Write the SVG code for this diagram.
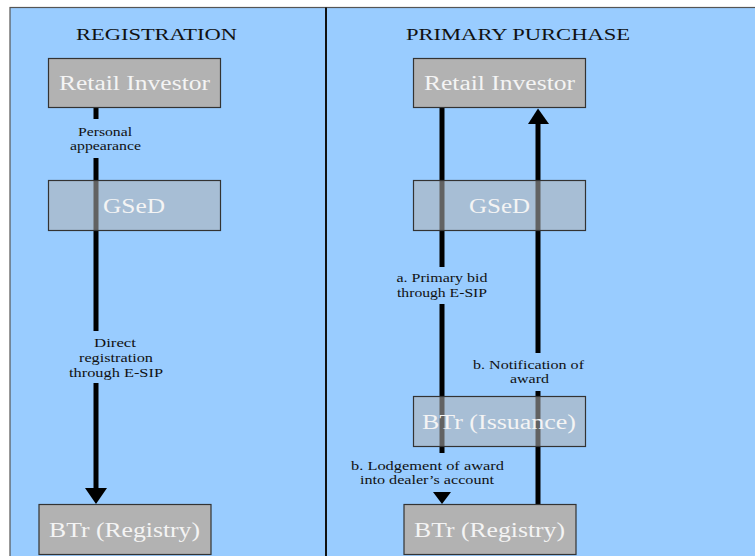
<svg xmlns="http://www.w3.org/2000/svg" width="755" height="556" viewBox="0 0 755 556">
<style>
.title{font-family:"Liberation Serif",serif;font-size:16px;fill:#111;text-anchor:middle}
.box{fill:#B2B2B2;stroke:#333;stroke-width:1.2}
.tbox{fill:#B2B2B2;fill-opacity:0.55;stroke:#333;stroke-width:1.2}
.bt{font-family:"Liberation Serif",serif;font-size:20px;fill:#F4F4F4;text-anchor:middle}
.lbl{font-family:"Liberation Serif",serif;font-size:12px;fill:#111;text-anchor:middle}
.ln{stroke:#000;stroke-width:5;fill:none}
.ah{fill:#000}
</style>
<rect x="0" y="0" width="755" height="556" fill="#fff"/>
<rect x="10" y="7.5" width="750" height="552" fill="#99CCFF" stroke="#555" stroke-width="1.2"/>
<line x1="326" y1="7.5" x2="326" y2="556" stroke="#111" stroke-width="2"/>
<text class="title" x="156.5" y="40" textLength="161" lengthAdjust="spacingAndGlyphs">REGISTRATION</text>
<text class="title" x="518" y="40" textLength="224" lengthAdjust="spacingAndGlyphs">PRIMARY PURCHASE</text>

<g id="connectors">
<line class="ln" x1="96" y1="108" x2="96" y2="119"/>
<line class="ln" x1="96" y1="158" x2="96" y2="331"/>
<line class="ln" x1="96" y1="383" x2="96" y2="489"/>
<polygon class="ah" points="85,488 107,488 96,504"/>
<line class="ln" x1="442" y1="108" x2="442" y2="267"/>
<line class="ln" x1="442" y1="304" x2="442" y2="453"/>
<polygon class="ah" points="433,492 451,492 442,504"/>
<polygon class="ah" points="528,124 549,124 538,108.5"/>
<line class="ln" x1="538" y1="123" x2="538" y2="353"/>
<line class="ln" x1="538" y1="391" x2="538" y2="504"/>
<text class="lbl" x="105" y="136" textLength="54" lengthAdjust="spacingAndGlyphs">Personal</text>
<text class="lbl" x="105.5" y="150" textLength="71" lengthAdjust="spacingAndGlyphs">appearance</text>
<text class="lbl" x="115" y="347" textLength="42" lengthAdjust="spacingAndGlyphs">Direct</text>
<text class="lbl" x="116" y="362" textLength="74" lengthAdjust="spacingAndGlyphs">registration</text>
<text class="lbl" x="116" y="377" textLength="94" lengthAdjust="spacingAndGlyphs">through E-SIP</text>
<text class="lbl" x="442" y="282" textLength="91" lengthAdjust="spacingAndGlyphs">a. Primary bid</text>
<text class="lbl" x="442" y="297" textLength="90" lengthAdjust="spacingAndGlyphs">through E-SIP</text>
<text class="lbl" x="528.5" y="369" textLength="111" lengthAdjust="spacingAndGlyphs">b. Notification of</text>
<text class="lbl" x="529.5" y="383" textLength="39" lengthAdjust="spacingAndGlyphs">award</text>
<text class="lbl" x="427.5" y="470" textLength="153" lengthAdjust="spacingAndGlyphs">b.  Lodgement of award</text>
<text class="lbl" x="427" y="483.5" textLength="134" lengthAdjust="spacingAndGlyphs">into dealer’s account</text>
</g>

<g id="reg-investor">
<rect class="box" x="48.5" y="58.5" width="172" height="49"/>
<text class="bt" x="134.5" y="90" textLength="151" lengthAdjust="spacingAndGlyphs">Retail Investor</text>
</g>
<g id="reg-gsed">
<rect class="tbox" x="48.5" y="180.5" width="172" height="50"/>
<text class="bt" x="134" y="213" textLength="62" lengthAdjust="spacingAndGlyphs">GSeD</text>
</g>
<g id="reg-registry">
<rect class="box" x="39" y="504.5" width="172" height="50"/>
<text class="bt" x="124.5" y="537" textLength="151" lengthAdjust="spacingAndGlyphs">BTr (Registry)</text>
</g>

<g id="pp-investor">
<rect class="box" x="413.5" y="58.5" width="172" height="49"/>
<text class="bt" x="499.5" y="90" textLength="151" lengthAdjust="spacingAndGlyphs">Retail Investor</text>
</g>
<g id="pp-gsed">
<rect class="tbox" x="413.5" y="180.5" width="172" height="50"/>
<text class="bt" x="499.5" y="213" textLength="61" lengthAdjust="spacingAndGlyphs">GSeD</text>
</g>
<g id="pp-issuance">
<rect class="tbox" x="413.5" y="396.5" width="172" height="50"/>
<text class="bt" x="499" y="429" textLength="154" lengthAdjust="spacingAndGlyphs">BTr (Issuance)</text>
</g>
<g id="pp-registry">
<rect class="box" x="404" y="504.5" width="172" height="50"/>
<text class="bt" x="489.5" y="537" textLength="151" lengthAdjust="spacingAndGlyphs">BTr (Registry)</text>
</g>
</svg>
